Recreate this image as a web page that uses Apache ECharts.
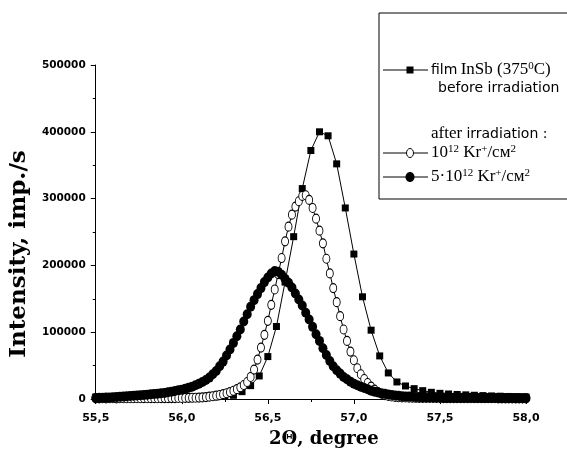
<!DOCTYPE html>
<html><head><meta charset="utf-8">
<script src="https://cdn.jsdelivr.net/npm/echarts@6/dist/echarts.min.js"></script>
<style>html,body{margin:0;padding:0;background:#fff}#c{width:567px;height:453px}</style>
</head><body><div id="c"></div>
<script>
// ---- data (intensity in thousands of imp./s) ----
var squareX = [55.50,55.55,55.60,55.65,55.70,55.75,55.80,55.85,55.90,55.95,56.00,56.05,56.10,56.15,56.20,56.25,56.30,56.35,56.40,56.45,56.50,56.55,56.60,56.65,56.70,56.75,56.80,56.85,56.90,56.95,57.00,57.05,57.10,57.15,57.20,57.25,57.30,57.35,57.40,57.45,57.50,57.55,57.60,57.65,57.70,57.75,57.80,57.85,57.90,57.95,58.00];
var squareY = [3.0,2.8,2.7,2.6,2.5,2.5,2.4,2.4,2.4,2.4,2.4,2.5,2.6,2.8,3.1,4.0,5.5,11.0,20.0,34.5,63.5,108.5,175.0,243.0,315.0,372.0,400.0,394.0,352.0,286.0,217.0,153.0,103.0,64.5,39.0,25.5,19.5,15.5,12.5,10.0,8.5,7.5,6.8,6.2,5.6,5.1,4.6,4.2,3.8,3.4,3.0];

var circleX = [55.50,55.52,55.54,55.56,55.58,55.60,55.62,55.64,55.66,55.68,55.70,55.72,55.74,55.76,55.78,55.80,55.82,55.84,55.86,55.88,55.90,55.92,55.94,55.96,55.98,
56.00,56.02,56.04,56.06,56.08,56.10,56.12,56.14,56.16,56.18,56.20,56.22,56.24,56.26,56.28,56.30,56.32,56.34,56.36,56.38,56.40,56.42,56.44,56.46,56.48,
56.50,56.52,56.54,56.56,56.58,56.60,56.62,56.64,56.66,56.68,56.70,56.72,56.74,56.76,56.78,56.80,56.82,56.84,56.86,56.88,56.90,56.92,56.94,56.96,56.98,
57.00,57.02,57.04,57.06,57.08,57.10,57.12,57.14,57.16,57.18,57.20,57.22,57.24,57.26,57.28,57.30,57.32,57.34,57.36,57.38,57.40,57.42,57.44,57.46,57.48,
57.50,57.52,57.54,57.56,57.58,57.60,57.62,57.64,57.66,57.68,57.70,57.72,57.74,57.76,57.78,57.80,57.82,57.84,57.86,57.88,57.90,57.92,57.94,57.96,57.98,58.00];

var openY = [1.0,1.0,1.1,1.0,1.1,1.1,1.0,1.1,1.2,1.1,1.2,1.2,1.1,1.2,1.3,1.2,1.3,1.3,1.2,1.3,1.4,1.3,1.4,1.4,1.5,
1.5,1.6,1.7,1.8,1.9,2.1,2.4,2.9,3.5,4.2,5.0,6.0,7.2,8.6,10.3,12.3,14.7,17.5,21.0,25.5,33.0,44.0,59.0,77.0,96.0,
117.0,141.0,164.0,187.0,211.0,236.0,258.0,276.0,288.0,296.0,304.0,305.0,298.0,286.0,270.0,252.0,233.0,210.0,188.0,166.0,145.0,124.0,104.0,87.0,71.0,
58.0,46.0,37.0,30.0,24.0,18.5,14.0,10.5,7.8,5.9,4.6,3.7,3.1,2.7,2.4,2.2,2.0,1.9,1.8,1.7,1.7,1.6,1.6,1.5,1.5,
1.5,1.4,1.4,1.4,1.3,1.3,1.3,1.3,1.2,1.2,1.2,1.2,1.1,1.1,1.1,1.1,1.1,1.0,1.0,1.0,1.0,1.0,1.0,0.9,0.9,0.9];

var filledY = [1.5,1.7,1.9,2.1,2.4,2.7,3.0,3.3,3.6,4.0,4.4,4.8,5.2,5.6,6.0,6.5,7.0,7.5,8.0,8.5,9.0,10.0,11.0,12.0,13.0,
14.0,15.5,17.0,18.5,20.5,23.0,25.5,28.5,32.0,37.0,42.0,49.0,56.0,65.0,74.0,84.0,94.0,104.0,116.0,127.0,138.0,148.0,157.0,166.0,175.0,
182.0,188.0,191.5,190.5,186.0,180.0,174.0,167.0,158.0,149.0,140.0,129.0,119.0,108.0,97.0,87.0,76.0,66.0,57.0,49.0,43.0,38.0,33.0,29.5,26.0,
23.0,20.5,18.5,16.5,14.5,12.5,11.0,9.8,8.7,7.7,6.8,6.0,5.4,4.8,4.3,3.9,3.6,3.3,3.1,2.9,2.7,2.6,2.5,2.4,2.3,
2.2,2.1,2.0,2.0,1.9,1.9,1.8,1.8,1.7,1.7,1.7,1.6,1.6,1.6,1.5,1.5,1.5,1.5,1.4,1.4,1.4,1.4,1.3,1.3,1.3,1.3];

var xTicks = [55.5, 56.0, 56.5, 57.0, 57.5, 58.0];
var yTicks = [0, 100000, 200000, 300000, 400000, 500000];

function pairs(xs, ys) {
  var out = [];
  for (var i = 0; i < xs.length && i < ys.length; i++) out.push([xs[i], ys[i] * 1000]);
  return out;
}

var chart = echarts.init(document.getElementById('c'), null, {renderer: 'canvas'});

var serif = 'Liberation Serif, Times New Roman, serif';
var sans = 'DejaVu Sans, Arial, sans-serif';

var rich = {
  sa: {fontFamily: sans, fontSize: 14, color: '#000', verticalAlign: 'middle', lineHeight: 18},
  se: {fontFamily: serif, fontSize: 17, color: '#000', verticalAlign: 'middle', lineHeight: 18},
  sup: {fontFamily: serif, fontSize: 11, color: '#000', verticalAlign: 'top', lineHeight: 18}
};

var legendLineX1 = 383, legendLineX2 = 428, legendMarkX = 410, legendTextX = 431;

chart.setOption({
  animation: false,
  backgroundColor: '#fff',
  grid: {left: 94, right: 41, top: 65, bottom: 54, containLabel: false},
  xAxis: {
    type: 'value', min: 55.5, max: 58.0, interval: 0.5,
    name: '2\u0398, degree', nameLocation: 'middle', nameGap: 31,
    nameTextStyle: {fontFamily: 'DejaVu Serif, serif', fontWeight: 'bold', fontSize: 18, color: '#000', padding: [0, 0, 0, 26]},
    axisLine: {show: true, lineStyle: {color: '#000', width: 1}},
    axisTick: {show: true, inside: false, length: 5, lineStyle: {color: '#000'}},
    minorTick: {show: true, splitNumber: 2, length: 3, lineStyle: {color: '#000'}},
    splitLine: {show: false},
    axisLabel: {
      margin: 14, color: '#000', fontFamily: 'DejaVu Sans', fontWeight: 'bold', fontSize: 11,
      formatter: function (v) { return v.toFixed(1).replace('.', ','); }
    }
  },
  yAxis: {
    type: 'value', min: 0, max: 500000, interval: 100000,
    name: 'Intensity, imp./s', nameLocation: 'middle', nameGap: 60, nameRotate: 90,
    nameTextStyle: {fontFamily: 'DejaVu Serif, serif', fontWeight: 'bold', fontSize: 23, color: '#000', padding: [0, 44, 0, 0]},
    axisLine: {show: true, lineStyle: {color: '#000', width: 1}},
    axisTick: {show: true, inside: false, length: 5, lineStyle: {color: '#000'}},
    minorTick: {show: true, splitNumber: 2, length: 3, lineStyle: {color: '#000'}},
    splitLine: {show: false},
    axisLabel: {
      margin: 10, color: '#000', fontFamily: 'DejaVu Sans', fontWeight: 'bold', fontSize: 10.5,
      formatter: function (v) { return String(Math.round(v)); }
    }
  },
  series: [
    {
      name: 'film InSb (375°C) before irradiation', type: 'line', data: pairs(squareX, squareY),
      symbol: 'rect', symbolSize: 7, showAllSymbol: true,
      lineStyle: {color: '#000', width: 1}, itemStyle: {color: '#000'}, z: 2
    },
    {
      name: '10^12 Kr+/cm2', type: 'line', data: pairs(circleX, openY),
      symbol: 'circle', symbolSize: [7, 9], showAllSymbol: true,
      lineStyle: {color: '#000', width: 1}, itemStyle: {color: '#fff', borderColor: '#000', borderWidth: 1}, z: 3
    },
    {
      name: '5·10^12 Kr+/cm2', type: 'line', data: pairs(circleX, filledY),
      symbol: 'circle', symbolSize: [9, 10], showAllSymbol: true,
      lineStyle: {color: '#000', width: 1}, itemStyle: {color: '#000'}, z: 4
    }
  ],
  graphic: [
    {type: 'rect', shape: {x: 379, y: 13, width: 240, height: 186}, style: {fill: '#fff', stroke: '#000', lineWidth: 1}, z: 10},
    {type: 'line', shape: {x1: legendLineX1, y1: 70, x2: legendLineX2, y2: 70}, style: {stroke: '#000', lineWidth: 1}, z: 11},
    {type: 'rect', shape: {x: legendMarkX - 3.5, y: 66.5, width: 7, height: 7}, style: {fill: '#000'}, z: 12},
    {type: 'text', x: legendTextX, y: 70, z: 12, style: {text: '{sa|film} {se|InSb (375}{sup|0}{se|C)}', rich: rich, verticalAlign: 'middle', align: 'left'}},
    {type: 'text', x: 438, y: 88, z: 12, style: {text: '{sa|before irradiation}', rich: rich, verticalAlign: 'middle', align: 'left'}},
    {type: 'text', x: legendTextX, y: 134, z: 12, style: {text: '{se|after }{sa|irradiation :}', rich: rich, verticalAlign: 'middle', align: 'left'}},
    {type: 'line', shape: {x1: legendLineX1, y1: 153, x2: legendLineX2, y2: 153}, style: {stroke: '#000', lineWidth: 1}, z: 11},
    {type: 'ellipse', shape: {cx: legendMarkX, cy: 153, rx: 3.5, ry: 4.5}, style: {fill: '#fff', stroke: '#000', lineWidth: 1}, z: 12},
    {type: 'text', x: legendTextX, y: 153, z: 12, style: {text: '{se|10}{sup|12}{se| Kr}{sup|+}{se|/см}{sup|2}', rich: rich, verticalAlign: 'middle', align: 'left'}},
    {type: 'line', shape: {x1: legendLineX1, y1: 177, x2: legendLineX2, y2: 177}, style: {stroke: '#000', lineWidth: 1}, z: 11},
    {type: 'ellipse', shape: {cx: legendMarkX, cy: 177, rx: 4.5, ry: 5}, style: {fill: '#000'}, z: 12},
    {type: 'text', x: legendTextX, y: 177, z: 12, style: {text: '{se|5·10}{sup|12}{se| Kr}{sup|+}{se|/см}{sup|2}', rich: rich, verticalAlign: 'middle', align: 'left'}}
  ]
});
</script>
</body></html>
